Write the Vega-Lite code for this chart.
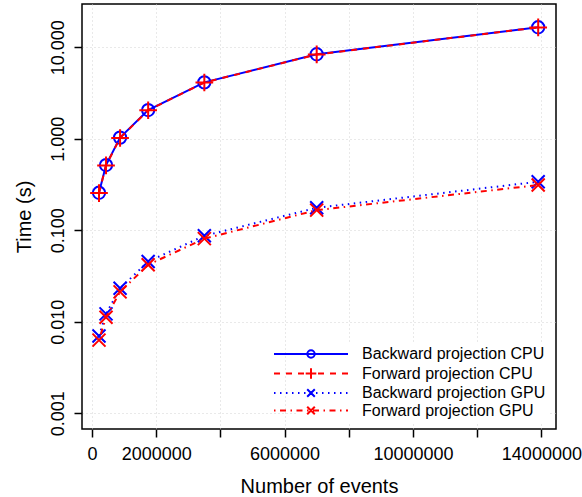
{
  "$schema": "https://vega.github.io/schema/vega-lite/v6.json",
  "width": 474,
  "height": 425,
  "autosize": {"type": "none"},
  "padding": {"left": 82, "top": 4, "right": 26, "bottom": 68},
  "background": "white",
  "config": {
    "view": {"stroke": "black", "strokeWidth": 1.5},
    "font": "Liberation Sans",
    "axis": {
      "grid": true,
      "gridColor": "#d3d3d3",
      "gridDash": [1, 3],
      "gridWidth": 1,
      "domain": false,
      "ticks": true,
      "tickSize": 8,
      "tickColor": "black",
      "tickWidth": 1.5,
      "labelFont": "Liberation Sans",
      "labelFontSize": 18,
      "labelColor": "black",
      "labelFlush": false,
      "labelOverlap": false,
      "titleFont": "Liberation Sans",
      "titleFontSize": 20,
      "titleFontWeight": "normal",
      "titleColor": "black"
    }
  },
  "data": {
    "values": [
      {"events": 218750, "time": 0.257, "series": "Backward projection CPU"},
      {"events": 437500, "time": 0.516, "series": "Backward projection CPU"},
      {"events": 875000, "time": 1.03, "series": "Backward projection CPU"},
      {"events": 1750000, "time": 2.06, "series": "Backward projection CPU"},
      {"events": 3500000, "time": 4.14, "series": "Backward projection CPU"},
      {"events": 7000000, "time": 8.39, "series": "Backward projection CPU"},
      {"events": 13900000, "time": 16.55, "series": "Backward projection CPU"},
      {"events": 218750, "time": 0.255, "series": "Forward projection CPU"},
      {"events": 437500, "time": 0.512, "series": "Forward projection CPU"},
      {"events": 875000, "time": 1.02, "series": "Forward projection CPU"},
      {"events": 1750000, "time": 2.05, "series": "Forward projection CPU"},
      {"events": 3500000, "time": 4.12, "series": "Forward projection CPU"},
      {"events": 7000000, "time": 8.35, "series": "Forward projection CPU"},
      {"events": 13900000, "time": 16.5, "series": "Forward projection CPU"},
      {"events": 218750, "time": 0.0070, "series": "Backward projection GPU"},
      {"events": 437500, "time": 0.0122, "series": "Backward projection GPU"},
      {"events": 875000, "time": 0.0232, "series": "Backward projection GPU"},
      {"events": 1750000, "time": 0.0455, "series": "Backward projection GPU"},
      {"events": 3500000, "time": 0.087, "series": "Backward projection GPU"},
      {"events": 7000000, "time": 0.176, "series": "Backward projection GPU"},
      {"events": 13900000, "time": 0.339, "series": "Backward projection GPU"},
      {"events": 218750, "time": 0.0063, "series": "Forward projection GPU"},
      {"events": 437500, "time": 0.0112, "series": "Forward projection GPU"},
      {"events": 875000, "time": 0.0212, "series": "Forward projection GPU"},
      {"events": 1750000, "time": 0.0420, "series": "Forward projection GPU"},
      {"events": 3500000, "time": 0.081, "series": "Forward projection GPU"},
      {"events": 7000000, "time": 0.166, "series": "Forward projection GPU"},
      {"events": 13900000, "time": 0.312, "series": "Forward projection GPU"}
    ]
  },
  "encoding": {
    "x": {
      "field": "events",
      "type": "quantitative",
      "scale": {"domain": [-311000, 14455000], "nice": false, "zero": false},
      "axis": {
        "title": "Number of events",
        "values": [0, 2000000, 4000000, 6000000, 8000000, 10000000, 12000000, 14000000],
        "labelExpr": "(datum.value == 4000000 || datum.value == 8000000 || datum.value == 12000000) ? '' : format(datum.value, 'd')",
        "labelPadding": 8,
        "titlePadding": 13
      }
    },
    "y": {
      "field": "time",
      "type": "quantitative",
      "scale": {"type": "log", "domain": [0.000673, 29.72], "nice": false},
      "axis": {
        "title": "Time (s)",
        "values": [0.001, 0.01, 0.1, 1, 10],
        "format": ".3f",
        "labelAngle": -90,
        "labelAlign": "center",
        "labelBaseline": "bottom",
        "labelPadding": 7,
        "titlePadding": 15
      }
    }
  },
  "layer": [
    {
      "transform": [{"filter": "datum.series == 'Backward projection CPU'"}],
      "mark": {"type": "line", "strokeWidth": 2, "color": "#0000FF"},
      "encoding": {}
    },
    {
      "transform": [{"filter": "datum.series == 'Backward projection CPU'"}],
      "mark": {"type": "point", "shape": "circle", "filled": false, "size": 151, "strokeWidth": 2, "opacity": 1, "color": "#0000FF"},
      "encoding": {}
    },
    {
      "transform": [{"filter": "datum.series == 'Forward projection CPU'"}],
      "mark": {"type": "line", "strokeWidth": 2, "color": "#FF0000", "strokeDash": [6, 6]},
      "encoding": {}
    },
    {
      "transform": [{"filter": "datum.series == 'Forward projection CPU'"}],
      "mark": {"type": "point", "shape": "M-1,0H1M0,-1V1", "filled": false, "size": 313, "strokeWidth": 2, "opacity": 1, "color": "#FF0000"},
      "encoding": {}
    },
    {
      "transform": [{"filter": "datum.series == 'Backward projection GPU'"}],
      "mark": {"type": "line", "strokeWidth": 2, "color": "#0000FF", "strokeDash": [1.5, 4.5]},
      "encoding": {}
    },
    {
      "transform": [{"filter": "datum.series == 'Backward projection GPU'"}],
      "mark": {"type": "point", "shape": "M-1,-1L1,1M-1,1L1,-1", "filled": false, "size": 169, "strokeWidth": 2, "opacity": 1, "color": "#0000FF"},
      "encoding": {}
    },
    {
      "transform": [{"filter": "datum.series == 'Forward projection GPU'"}],
      "mark": {"type": "line", "strokeWidth": 2, "color": "#FF0000", "strokeDash": [1.5, 4.5, 6, 4.5]},
      "encoding": {}
    },
    {
      "transform": [{"filter": "datum.series == 'Forward projection GPU'"}],
      "mark": {"type": "point", "shape": "M-1,-1L1,1M-1,1L1,-1", "filled": false, "size": 169, "strokeWidth": 2, "opacity": 1, "color": "#FF0000"},
      "encoding": {}
    },
    {
      "mark": {"type": "point", "filled": false, "size": 4, "strokeWidth": 2, "opacity": 0},
      "encoding": {
        "color": {
          "field": "series", "type": "nominal",
          "scale": {"domain": ["Backward projection CPU", "Forward projection CPU", "Backward projection GPU", "Forward projection GPU"], "range": ["#0000FF", "#FF0000", "#0000FF", "#FF0000"]},
          "legend": {
            "title": null, "orient": "bottom-right", "offset": 6, "padding": 4,
            "fillColor": "white", "labelFont": "Liberation Sans", "labelFontSize": 16, "labelColor": "black",
            "labelLimit": 400, "labelOffset": 46, "rowPadding": 1.5, "symbolSize": 4, "symbolStrokeWidth": 2,
            "symbolOpacity": 1, "symbolFillColor": "transparent",
            "encode": {"symbols": {"update": {"opacity": {"value": 1}}}}
          }
        },
        "shape": {
          "field": "series", "type": "nominal",
          "scale": {
            "domain": ["Backward projection CPU", "Forward projection CPU", "Backward projection GPU", "Forward projection GPU"],
            "range": [
              "M-34,0H40M6.7,0A3.7,3.7,0,1,1,-0.7,0A3.7,3.7,0,1,1,6.7,0",
              "M-34,0H-28M-22,0H-16M-10,0H-4M10,0H16M22,0H28M34,0H40M-2.3,0H8.3M3,-5.3V5.3",
              "M-34,0H-32.5M-28,0H-26.5M-22,0H-20.5M-16,0H-14.5M-10,0H-8.5M-4,0H-2.5M8,0H9.5M14,0H15.5M20,0H21.5M26,0H27.5M32,0H33.5M38,0H39.5M-0.8,-3.8L6.8,3.8M-0.8,3.8L6.8,-3.8",
              "M-34,0H-32.5M-28,0H-22M-17.5,0H-16M-11.5,0H-5.5M-1,0H0.5M5,0H11M15.5,0H17M21.5,0H27.5M32,0H33.5M38,0H40M-0.8,-3.8L6.8,3.8M-0.8,3.8L6.8,-3.8"
            ]
          },
          "legend": {
            "title": null, "orient": "bottom-right", "offset": 6, "padding": 4,
            "fillColor": "white", "labelFont": "Liberation Sans", "labelFontSize": 16, "labelColor": "black",
            "labelLimit": 400, "labelOffset": 46, "rowPadding": 1.5, "symbolSize": 4, "symbolStrokeWidth": 2,
            "symbolOpacity": 1, "symbolFillColor": "transparent",
            "encode": {"symbols": {"update": {"opacity": {"value": 1}}}}
          }
        }
      }
    }
  ]
}
